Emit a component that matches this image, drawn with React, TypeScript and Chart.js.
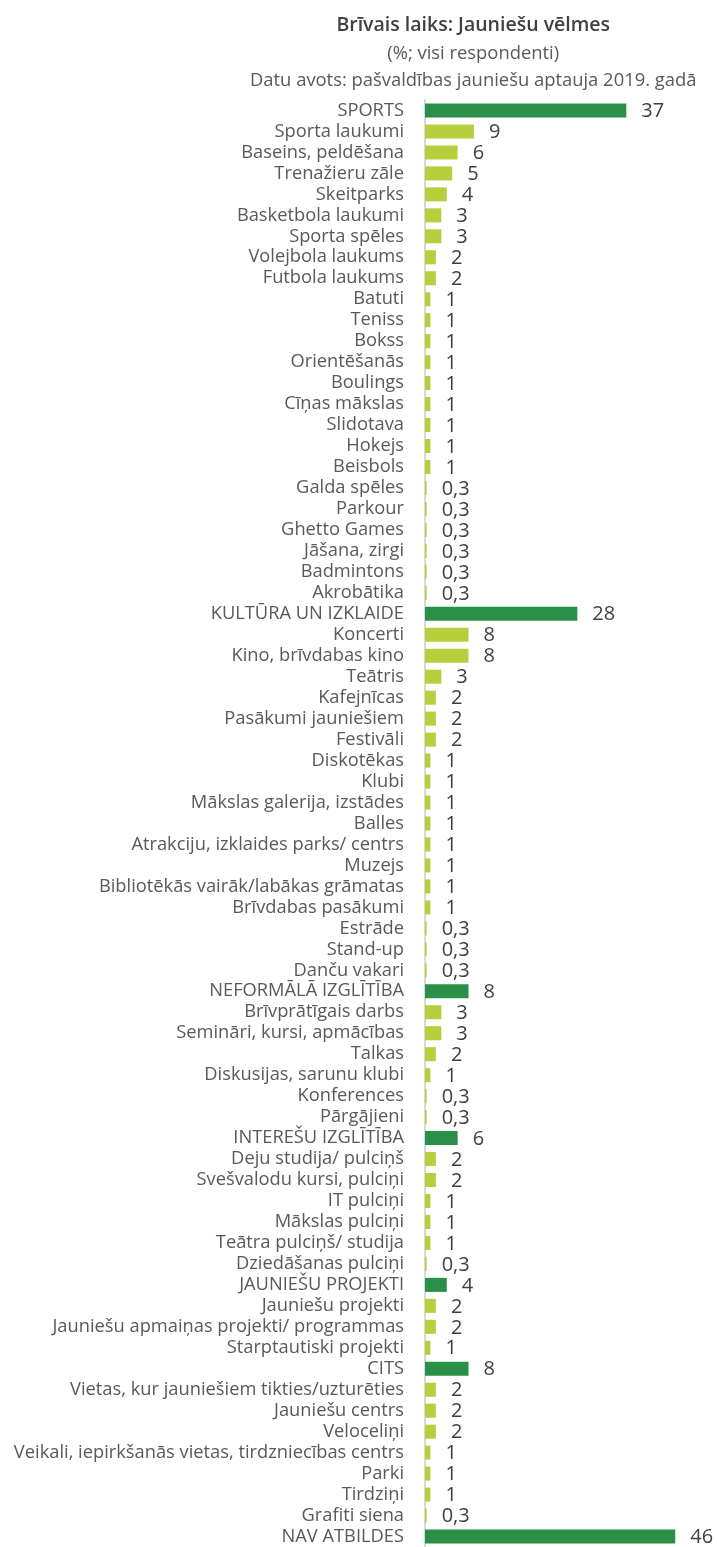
import React, { useEffect, useRef } from "react";
import { Chart, registerables } from "chart.js";

Chart.register(...registerables);

const titleLines = [
  "Brīvais laiks: Jauniešu vēlmes",
  "(%; visi respondenti)",
  "Datu avots: pašvaldības jauniešu aptauja 2019. gadā",
];

const categories = [
  "SPORTS",
  "Sporta laukumi",
  "Baseins, peldēšana",
  "Trenažieru zāle",
  "Skeitparks",
  "Basketbola laukumi",
  "Sporta spēles",
  "Volejbola laukums",
  "Futbola laukums",
  "Batuti",
  "Teniss",
  "Bokss",
  "Orientēšanās",
  "Boulings",
  "Cīņas mākslas",
  "Slidotava",
  "Hokejs",
  "Beisbols",
  "Galda spēles",
  "Parkour",
  "Ghetto Games",
  "Jāšana, zirgi",
  "Badmintons",
  "Akrobātika",
  "KULTŪRA UN IZKLAIDE",
  "Koncerti",
  "Kino, brīvdabas kino",
  "Teātris",
  "Kafejnīcas",
  "Pasākumi jauniešiem",
  "Festivāli",
  "Diskotēkas",
  "Klubi",
  "Mākslas galerija, izstādes",
  "Balles",
  "Atrakciju, izklaides parks/ centrs",
  "Muzejs",
  "Bibliotēkās vairāk/labākas grāmatas",
  "Brīvdabas pasākumi",
  "Estrāde",
  "Stand-up",
  "Danču vakari",
  "NEFORMĀLĀ IZGLĪTĪBA",
  "Brīvprātīgais darbs",
  "Semināri, kursi, apmācības",
  "Talkas",
  "Diskusijas, sarunu klubi",
  "Konferences",
  "Pārgājieni",
  "INTEREŠU IZGLĪTĪBA",
  "Deju studija/ pulciņš",
  "Svešvalodu kursi, pulciņi",
  "IT pulciņi",
  "Mākslas pulciņi",
  "Teātra pulciņš/ studija",
  "Dziedāšanas pulciņi",
  "JAUNIEŠU PROJEKTI",
  "Jauniešu projekti",
  "Jauniešu apmaiņas projekti/ programmas",
  "Starptautiski projekti",
  "CITS",
  "Vietas, kur jauniešiem tikties/uzturēties",
  "Jauniešu centrs",
  "Veloceliņi",
  "Veikali, iepirkšanās vietas, tirdzniecības centrs",
  "Parki",
  "Tirdziņi",
  "Grafiti siena",
  "NAV ATBILDES",
];

const values = [
  37, 9, 6, 5, 4, 3, 3, 2, 2, 1, 1, 1, 1, 1, 1, 1, 1, 1, 0.3, 0.3, 0.3, 0.3, 0.3, 0.3,
  28, 8, 8, 3, 2, 2, 2, 1, 1, 1, 1, 1, 1, 1, 1, 0.3, 0.3, 0.3,
  8, 3, 3, 2, 1, 0.3, 0.3,
  6, 2, 2, 1, 1, 1, 0.3,
  4, 2, 2, 1,
  8, 2, 2, 2, 1, 1, 1, 0.3,
  46,
];

const groupHeaders = [
  "SPORTS",
  "KULTŪRA UN IZKLAIDE",
  "NEFORMĀLĀ IZGLĪTĪBA",
  "INTEREŠU IZGLĪTĪBA",
  "JAUNIEŠU PROJEKTI",
  "CITS",
  "NAV ATBILDES",
];

const DARK = "#2A8F47";
const LIGHT = "#B7CF3C";
const FONT = "'Open Sans', Lato, sans-serif";

const fmt = (v: number) => (v < 1 ? String(v).replace(".", ",") : String(Math.round(v)));

const titlePlugin = {
  id: "customTitle",
  afterDraw(chart: any) {
    const ctx = chart.ctx;
    const cx = chart.width * 0.66;
    ctx.save();
    ctx.textAlign = "center";
    ctx.textBaseline = "alphabetic";
    ctx.fillStyle = "#404040";
    ctx.font = `600 19.5px ${FONT}`;
    ctx.fillText(titleLines[0], cx, 31);
    ctx.fillStyle = "#595959";
    ctx.font = `18.4px ${FONT}`;
    ctx.fillText(titleLines[1], cx, 59);
    ctx.fillText(titleLines[2], cx, 86);
    ctx.restore();
  },
};

const labelPlugin = {
  id: "barLabels",
  afterDatasetsDraw(chart: any) {
    const ctx = chart.ctx;
    const meta = chart.getDatasetMeta(0);
    ctx.save();
    ctx.fillStyle = "#404040";
    ctx.font = `20px ${FONT}`;
    ctx.textAlign = "left";
    ctx.textBaseline = "middle";
    meta.data.forEach((bar: any, i: number) => {
      ctx.fillText(fmt(values[i]), bar.x + 15, bar.y + 1);
    });
    ctx.restore();
  },
};

export default function App() {
  const ref = useRef<HTMLCanvasElement>(null);

  useEffect(() => {
    if (!ref.current) return;
    const chart = new Chart(ref.current, {
      type: "bar",
      data: {
        labels: categories,
        datasets: [
          {
            data: values,
            backgroundColor: categories.map((c) => (groupHeaders.includes(c) ? DARK : LIGHT)),
            categoryPercentage: 1,
            barPercentage: 0.67,
          },
        ],
      },
      options: {
        indexAxis: "y",
        animation: false,
        responsive: false,
        maintainAspectRatio: false,
        devicePixelRatio: 1,
        layout: { padding: { top: 100, right: 20, bottom: 0, left: 0 } },
        plugins: {
          legend: { display: false },
          tooltip: { enabled: false },
          title: { display: false },
        },
        scales: {
          x: {
            display: false,
            min: 0,
            max: 50,
          },
          y: {
            grid: { display: false, drawTicks: false },
            border: { display: true, color: "#D9D9D9", width: 2 },
            ticks: {
              autoSkip: false,
              padding: 21,
              color: "#595959",
              font: { family: FONT, size: 18.3 },
            },
            afterFit(scale: any) {
              scale.width = 425;
              scale.paddingTop = 0;
              scale.paddingBottom = 0;
            },
          },
        },
      },
      plugins: [titlePlugin, labelPlugin],
    });
    return () => chart.destroy();
  }, []);

  return (
    <div style={{ position: "fixed", left: 0, top: 0, width: 717, height: 1547 }}>
      <canvas ref={ref} width={717} height={1547} style={{ display: "block" }} />
    </div>
  );
}
